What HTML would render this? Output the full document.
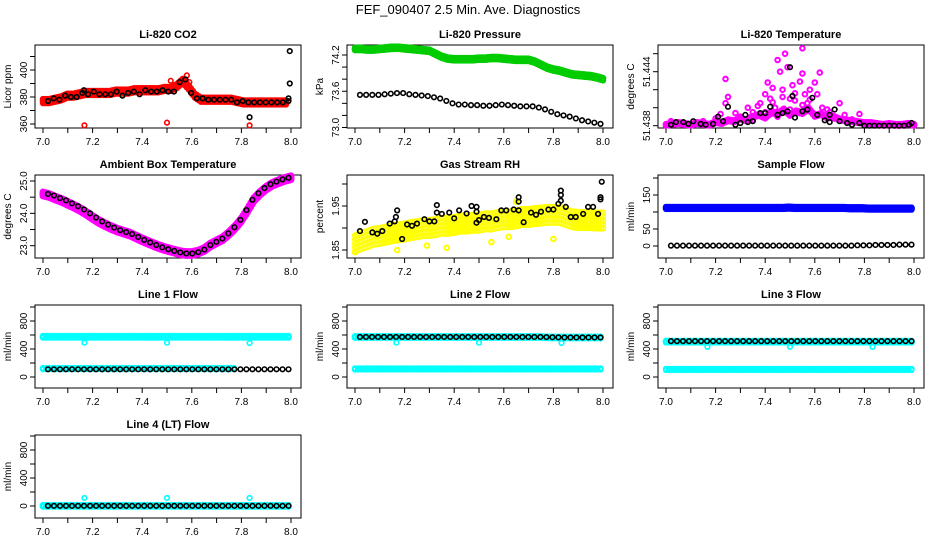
<!DOCTYPE html>
<html><head><meta charset="utf-8"><style>
body{margin:0;background:#fff;}
svg{display:block;font-family:"Liberation Sans",sans-serif;}
</style></head><body>
<svg id="chart" width="936" height="540" viewBox="0 0 936 540">
<rect width="936" height="540" fill="#fff"/>
<text x="468" y="14" text-anchor="middle" font-size="13">FEF_090407  2.5 Min. Ave. Diagnostics</text>
</svg>
<script>
// ---------- data ----------
const xTicks=[7.0,7.1,7.2,7.3,7.4,7.5,7.6,7.7,7.8,7.9,8.0];
const xTickLabels=["7.0","7.2","7.4","7.6","7.8","8.0"];
const co2Red=[377,377,378,379,381,381,382,383,383,383,383,383,384,384,384,385,385,385,385,385,386,386,388,392,387,381,378,378,378,378,378,378,377,376,376,376,376,376,376,376,376];
const co2RedOut=[[7.167,359],[7.5,361],[7.833,359],[7.515,392],[7.58,396],[7.59,391]];
const co2Black=[377,379,378,381,380,380,383,382,384,382,382,382,384,381,383,384,382,385,384,384,385,384,384,391,393,383,379,379,378,378,378,378,378,376,377,376,376,376,376,376,376,376,377];
const co2BlackOut=[[7.165,385],[7.833,365],[7.99,379],[7.995,390],[7.995,414]];
const presGreen=[74.30,74.30,74.29,74.29,74.30,74.31,74.32,74.32,74.31,74.30,74.29,74.28,74.27,74.22,74.17,74.14,74.13,74.13,74.13,74.13,74.14,74.14,74.15,74.15,74.14,74.13,74.12,74.12,74.12,74.09,74.04,73.99,73.96,73.94,73.91,73.88,73.87,73.86,73.85,73.83,73.80];
const presBlack=[73.54,73.54,73.54,73.54,73.55,73.56,73.57,73.57,73.55,73.54,73.53,73.52,73.50,73.48,73.44,73.40,73.38,73.38,73.37,73.37,73.36,73.36,73.37,73.38,73.37,73.36,73.35,73.35,73.35,73.33,73.30,73.26,73.22,73.20,73.18,73.15,73.12,73.10,73.08,73.06];
const tempBase=[0.1,0.2,0.3,0.2,0.1,0.3,0.2,0.1,0.4,0.3,0.6,0.5,0.8,0.6,1.0,1.2,0.9,1.5,1.3,1.8,1.2,1.6,1.4,1.9,1.1,1.3,0.9,1.0,0.7,0.6,0.5,0.4,0.3,0.3,0.2,0.1,0.2,0.1,0.1,0.2,0.1];
const tempMagOut=[[7.02,0.5],[7.2,0.8],[7.22,1.3],[7.24,2.5],[7.25,3.2],[7.24,5.2],[7.3,1.0],[7.33,2.0],[7.35,1.5],[7.38,2.5],[7.40,3.5],[7.41,4.8],[7.42,3.0],[7.43,4.2],[7.44,2.0],[7.45,7.3],[7.46,6.0],[7.47,4.0],[7.48,8.0],[7.49,6.5],[7.50,3.0],[7.51,4.5],[7.52,2.8],[7.53,1.5],[7.54,4.9],[7.55,8.6],[7.55,5.8],[7.56,3.5],[7.57,2.5],[7.58,4.0],[7.60,4.8],[7.61,3.5],[7.62,5.9],[7.63,2.0],[7.65,1.8],[7.66,1.5],[7.70,2.5],[7.72,1.2],[7.75,0.7],[7.78,1.3],[7.8,0.3],[7.45,1.0],[7.35,0.6],[7.28,1.4],[7.15,0.5],[7.6,1.2],[7.5,1.8],[7.4,1.5],[7.55,2.3],[7.68,0.8],[7.47,3.2],[7.52,3.6],[7.58,2.9],[7.43,2.6],[7.37,2.2]];
const tempBlack=[[7.02,0.1],[7.04,0.4],[7.07,0.4],[7.09,0.2],[7.11,0.5],[7.14,0.2],[7.16,0.1],[7.19,0.2],[7.21,1.0],[7.23,0.5],[7.25,2.1],[7.28,0.1],[7.30,0.3],[7.32,1.2],[7.33,0.4],[7.35,0.5],[7.38,1.4],[7.40,1.4],[7.42,2.1],[7.45,1.2],[7.47,1.4],[7.49,1.6],[7.50,6.5],[7.51,3.3],[7.52,0.9],[7.55,1.6],[7.57,1.8],[7.59,3.1],[7.61,1.2],[7.64,0.6],[7.66,0.4],[7.66,1.2],[7.68,1.8],[7.70,0.5],[7.73,0.3],[7.75,0.1],[7.78,0.3],[7.80,0.0],[7.82,0.0],[7.84,0.0],[7.86,0.0],[7.88,0.0],[7.90,0.0],[7.92,0.0],[7.94,0.0],[7.96,0.0],[7.98,0.1],[7.99,0.3]];
const ambient=[24.6,24.55,24.47,24.40,24.31,24.22,24.12,24.0,23.87,23.75,23.65,23.56,23.48,23.42,23.36,23.27,23.18,23.10,23.02,22.95,22.89,22.84,22.79,22.76,22.76,22.80,22.88,23.02,23.12,23.22,23.38,23.57,23.8,24.1,24.42,24.62,24.78,24.90,24.98,25.05,25.10];
const rhYellow=[1.865,1.87,1.875,1.88,1.882,1.885,1.888,1.89,1.892,1.895,1.897,1.90,1.90,1.902,1.905,1.905,1.907,1.91,1.91,1.912,1.912,1.915,1.915,1.918,1.92,1.92,1.922,1.925,1.925,1.927,1.928,1.93,1.93,1.93,1.925,1.92,1.918,1.918,1.918,1.917,1.917];
const rhYellowOut=[[7.0,1.845],[7.17,1.85],[7.37,1.855],[7.55,1.868],[7.8,1.875],[7.29,1.86],[7.62,1.88],[7.65,1.96]];
const rhBlack=[[7.02,1.893],[7.04,1.914],[7.07,1.89],[7.09,1.887],[7.11,1.893],[7.14,1.91],[7.16,1.915],[7.165,1.925],[7.17,1.94],[7.19,1.875],[7.21,1.908],[7.23,1.905],[7.25,1.91],[7.28,1.92],[7.30,1.915],[7.32,1.915],[7.33,1.935],[7.33,1.952],[7.35,1.932],[7.38,1.935],[7.40,1.922],[7.42,1.94],[7.45,1.933],[7.47,1.95],[7.49,1.948],[7.49,1.937],[7.49,1.912],[7.50,1.918],[7.52,1.925],[7.54,1.923],[7.57,1.92],[7.59,1.94],[7.61,1.94],[7.64,1.942],[7.66,1.94],[7.66,1.96],[7.66,1.97],[7.68,1.913],[7.71,1.935],[7.73,1.93],[7.75,1.937],[7.78,1.942],[7.80,1.942],[7.82,1.955],[7.83,1.962],[7.83,1.975],[7.83,1.985],[7.85,1.948],[7.87,1.925],[7.89,1.925],[7.92,1.932],[7.94,1.948],[7.96,1.948],[7.98,1.932],[7.99,1.965],[7.99,1.97],[7.995,2.005]];
const sampleBlue=[112,112,112,112,112,112,112,112,112,112,112,112,112,112,112,112,112,112,112,112,113,112,112,112,112,112,112,112,112,112,111,111,111,110,110,110,110,110,110,110,110];
const sampleBlack=[1,1,1,1,1,1,1,1,1,1,1,1,1,1,1,1,1,1,1,1,1,1,1,1,1,1,1,1,1,1,1,2,2,2,3,3,3,3,4,4,4];
const line1Cyan=[575,575,575,575,575,575,575,575,575,575,575,575,575,575,575,575,575,575,575,575,575];
const line1CyanLow=[120,120,120,120,120,120,120,120,120,120,120,120,120,120,120,120];
const line1Black=[110,110,110,110,110,110,110,110,110,110,110,110,110,110,110,110,110,110,110,110,110];
const line2Cyan=[572,572,572,572,572,572,572,572,572,572,572,572,572,572,572,572,565,565,565,565,565];
const line2CyanLow=[115,115,115,115,115,115,115,115,115,115,115,115,115,115,115,115,115,115,115,115,115];
const line2Black=[572,572,572,572,572,572,572,572,572,572,572,572,572,572,572,572,568,565,565,565,565];
const line3Cyan=[505,505,505,505,505,505,505,505,505,505,505,505,505,505,505,505,505,505,505,505,505];
const line3CyanLow=[108,108,108,108,108,108,108,108,108,108,108,108,108,108,108,108,108,108,108,108,108];
const line3Black=[512,512,512,512,512,512,512,512,512,512,512,512,512,512,512,512,512,512,512,512,512];
const line4Cyan=[2,2,2,2,2,2,2,2,2,2,2,2,2,2,2,2,2,2,2,2,2];
const line4Black=[2,2,2,2,2,2,2,2,2,2,2,2,2,2,2,2,2,2,2,2,2];
const dipX=[7.167,7.5,7.833];
const line1Dip=[490,490,485];
const line2Dip=[490,490,485];
const line3Dip=[430,430,430];
const line4Dip=[115,115,115];

// ---------- drawing ----------
const svg=document.getElementById('chart');
const NS='http://www.w3.org/2000/svg';
function el(tag,attrs){const e=document.createElementNS(NS,tag);for(const k in attrs)e.setAttribute(k,attrs[k]);svg.appendChild(e);return e;}
function spread(arr,x0,x1){const n=arr.length;return arr.map((v,i)=>[x0+(x1-x0)*i/(n-1),v]);}
function panel(o){
  const L=o.left,T=o.top,W=266,H=83;
  const sx=v=>L+8+(v-7)*248;
  const sy=v=>T+o.p1+(v-o.v1)*(o.p2-o.p1)/(o.v2-o.v1);
  const box=el('rect',{x:L,y:T,width:W,height:H,fill:'none',stroke:'#000','stroke-width':1});
  
  
  const t=el('text',{x:L+W/2,y:T-7,'text-anchor':'middle','font-size':11,'font-weight':'bold'});
  t.textContent=o.title;
  
  
  const yl=el('text',{x:0,y:0,'text-anchor':'middle','font-size':10,transform:`translate(${L-24},${T+H/2}) rotate(-90)`});
  yl.textContent=o.ylab;
  
  
  xTicks.forEach(v=>{
    const tk=el('line',{x1:sx(v),x2:sx(v),y1:T+H,y2:T+H+5,stroke:'#000'});
    
    
  });
  const xa=el('line',{x1:sx(7),x2:sx(8),y1:T+H,y2:T+H,stroke:'#000'});
  
  
  xTickLabels.forEach(s=>{
    const tl=el('text',{x:sx(parseFloat(s)),y:T+H+17,'text-anchor':'middle','font-size':10});
    tl.textContent=s;
    
    
  });
  o.yt.forEach(v=>{
    if(sy(v)<T-1||sy(v)>T+H+1)return;
    const tk=el('line',{x1:L-5,x2:L,y1:sy(v),y2:sy(v),stroke:'#000'});
    
    
  });
  o.yl.forEach((s,i)=>{
    const y=sy(o.ylv[i]);
    const tl=el('text',{x:0,y:0,'text-anchor':'middle','font-size':10,transform:`translate(${L-8},${y}) rotate(-90)`});
    tl.textContent=s;
    
    
  });
  return {sx,sy};
}
function pts(p,data,color,name,band,sw){
  const offs=band?[-band,-band/2,0,band/2,band]:[0];
  data.forEach(d=>{offs.forEach(of=>{
    const c=el('circle',{cx:p.sx(d[0]),cy:p.sy(d[1])+of,r:2.3,fill:'none',stroke:color,'stroke-width':sw||1.6});
    
    
  });});
}
function dense(arr,x0,x1,n){
  const out=[];const s=spread(arr,x0,x1);
  for(let i=0;i<s.length-1;i++){for(let k=0;k<n;k++){const f=k/n;out.push([s[i][0]+(s[i+1][0]-s[i][0])*f,s[i][1]+(s[i+1][1]-s[i][1])*f]);}}
  out.push(s[s.length-1]);return out;
}
const C=[35,347,658],R=[45,175,305,435];
const flowAxis={yt:[0,200,400,600,800,1000],yl:['0','400','800'],ylv:[0,400,800],ylab:'ml/min'};

// CO2
let p=panel({name:'co2',left:C[0],top:R[0],title:'Li-820 CO2',ylab:'Licor ppm',v1:360,p1:79,v2:400,p2:25,yt:[360,370,380,390,400,410],yl:['360','380','400'],ylv:[360,380,400]});
pts(p,dense(co2Red,7.0,7.98,3),'#f00','co2-red-point',2,1.8);
pts(p,co2RedOut,'#f00','co2-red-outlier');
pts(p,spread(co2Black,7.02,7.99),'#000','co2-black-point');
pts(p,co2BlackOut,'#000','co2-black-outlier');
// Pressure
p=panel({name:'pressure',left:C[1],top:R[0],title:'Li-820 Pressure',ylab:'kPa',v1:73.0,p1:82.5,v2:74.2,p2:10,yt:[73.0,73.2,73.4,73.6,73.8,74.0,74.2],yl:['73.0','73.6','74.2'],ylv:[73.0,73.6,74.2]});
pts(p,dense(presGreen,7.0,8.0,3),'#0c0','pressure-green-point',1.2,1.8);
pts(p,spread(presBlack,7.02,7.99),'#000','pressure-black-point');
// Li-820 temperature (values in 0.001 above 51.438)
p=panel({name:'li820-temp',left:C[2],top:R[0],title:'Li-820 Temperature',ylab:'degrees C',v1:0,p1:80.7,v2:6,p2:26.7,yt:[0,2,4,6,8],yl:['51.438','51.444'],ylv:[0,6]});
pts(p,dense(tempBase,7.0,8.0,3),'#f0f','temp-magenta-point',0.8,1.8);
pts(p,tempMagOut,'#f0f','temp-magenta-outlier',0,2);
pts(p,tempBlack,'#000','temp-black-point');
// Ambient
p=panel({name:'ambient',left:C[0],top:R[1],title:'Ambient Box Temperature',ylab:'degrees C',v1:23,p1:70.7,v2:25,p2:6,yt:[23,23.5,24,24.5,25],yl:['23.0','24.0','25.0'],ylv:[23,24,25]});
pts(p,dense(ambient,7.0,8.0,4),'#f0f','ambient-magenta-point',2,2.2);
pts(p,spread(ambient,7.02,7.99),'#000','ambient-black-point');
// RH
p=panel({name:'rh',left:C[1],top:R[1],title:'Gas Stream RH',ylab:'percent',v1:1.85,p1:75,v2:1.95,p2:31,yt:[1.85,1.90,1.95,2.00],yl:['1.85','1.95'],ylv:[1.85,1.95]});
pts(p,dense(rhYellow,7.0,8.0,3),'#ff0','rh-yellow-point',8,1.6);
pts(p,rhYellowOut,'#ff0','rh-yellow-outlier',0,2);
pts(p,rhBlack,'#000','rh-black-point');
// Sample flow
p=panel({name:'sample-flow',left:C[2],top:R[1],title:'Sample Flow',ylab:'ml/min',v1:0,p1:71,v2:150,p2:20,yt:[0,50,100,150,200],yl:['0','50','150'],ylv:[0,50,150]});
pts(p,dense(sampleBlue,7.0,7.99,3),'#00f','sample-blue-point',1,1.8);
pts(p,spread(sampleBlack,7.02,7.99),'#000','sample-black-point');
// Line flows
function flowPanel(name,title,left,top,hi,low,lowEnd,blk,dip,p1){
  const q=panel(Object.assign({name,left,top,title,v1:0,p1:p1,v2:800,p2:p1-56},flowAxis));
  if(hi)pts(q,dense(hi,7.0,7.99,4),'#0ff',name+'-cyan-point',0.8,1.8);
  if(low)pts(q,dense(low,7.0,lowEnd,4),'#0ff',name+'-cyan-low-point',0.6,1.6);
  pts(q,dense(blk,7.02,7.99,2),'#000',name+'-black-point');
  pts(q,dipX.map((x,i)=>[x,dip[i]]),'#0ff',name+'-cyan-outlier');
}
flowPanel('line1-flow','Line 1 Flow',C[0],R[2],line1Cyan,line1CyanLow,7.77,line1Black,line1Dip,72);
flowPanel('line2-flow','Line 2 Flow',C[1],R[2],line2Cyan,line2CyanLow,7.99,line2Black,line2Dip,72);
flowPanel('line3-flow','Line 3 Flow',C[2],R[2],line3Cyan,line3CyanLow,7.99,line3Black,line3Dip,72);
flowPanel('line4-flow','Line 4 (LT) Flow',C[0],R[3],line4Cyan,null,0,line4Black,line4Dip,71);
</script>
</body></html>
